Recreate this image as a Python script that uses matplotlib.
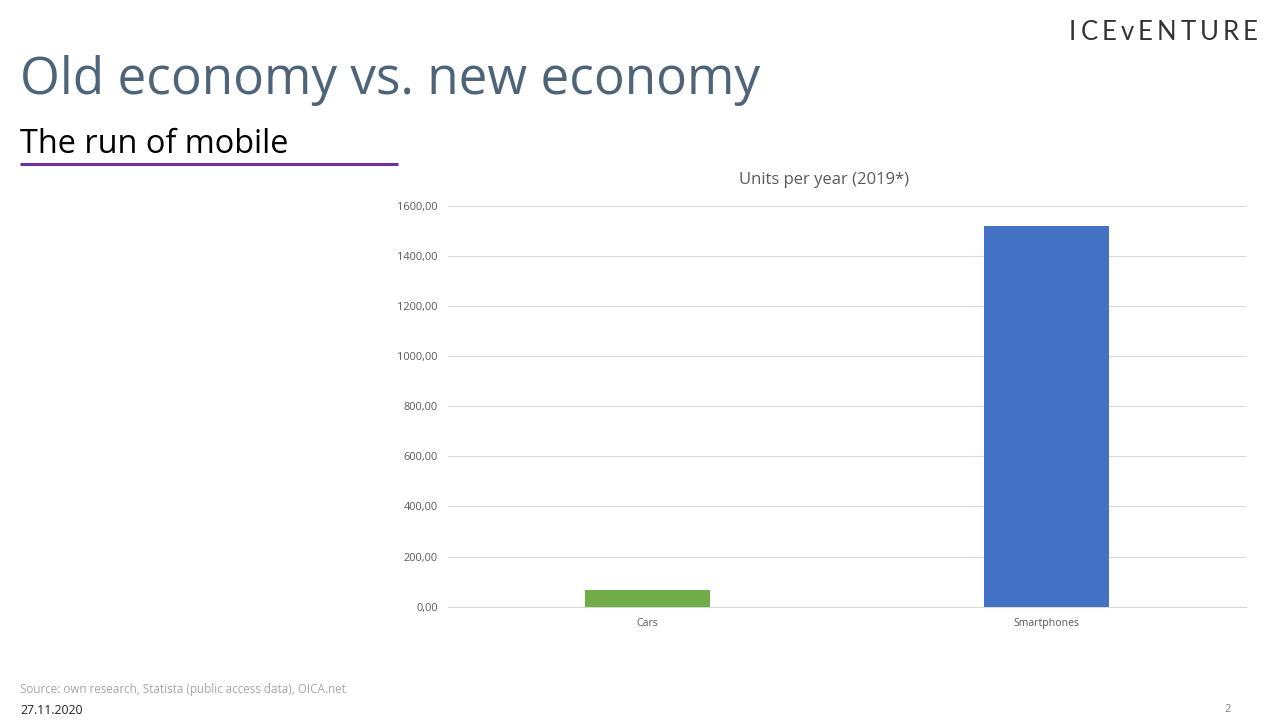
"""Old economy vs. new economy slide - units per year bar chart."""

import matplotlib
matplotlib.use("Agg")

import matplotlib.pyplot as plt
from matplotlib.lines import Line2D

categories = ["Cars", "Smartphones"]
units = [68, 1520]
bar_colours = ["#70AD47", "#4472C4"]
y_ticks = [0, 200, 400, 600, 800, 1000, 1200, 1400, 1600]
logo = "ICEvENTURE"

W, H = 1278, 720
FONT = "Open Sans"

fig = plt.figure(figsize=(W / 100, H / 100), dpi=100, facecolor="white")


def px_text(x, y, s, **kw):
    # slide text is placed in pixel coordinates, y from the top
    kw.setdefault("family", FONT)
    return fig.text(x / W, 1 - y / H, s, **kw)


# ---------------------------------------------------------------------------
# Slide furniture
# ---------------------------------------------------------------------------
px_text(20, 80, "Old economy vs. new economy", fontsize=36.9, color="#4E6479",
        va="center", ha="left")
px_text(20, 144.5, "The run of mobile", fontsize=23.4, color="black",
        va="center", ha="left")
fig.add_artist(Line2D([20 / W, 398 / W], [1 - 164 / H, 1 - 164 / H],
                      color="#7030A0", linewidth=2.2, solid_capstyle="butt"))

# logo has wide tracking, so set it letter by letter and fit it to its width
renderer = fig.canvas.get_renderer()
letters = [px_text(0, 40, c, family="Lato", fontsize=18.5, color="#333333",
                   va="baseline", ha="left") for c in logo]
widths = [t.get_window_extent(renderer).width for t in letters]
tracking = (1258 - 1069 - sum(widths)) / (len(logo) - 1)
x = 1069
for t, w in zip(letters, widths):
    t.set_x(x / W)
    x += w + tracking

px_text(20, 690, "Source: own research, Statista (public access data), OICA.net",
        fontsize=8.4, color="#A6A6A6", va="center", ha="left")
px_text(20, 711, "27.11.2020", fontsize=8.8, color="#222222", va="center", ha="left")
px_text(1231, 709, "2", fontsize=8, color="#7F7F7F", va="center", ha="right")

# ---------------------------------------------------------------------------
# Chart
# ---------------------------------------------------------------------------
ax = fig.add_axes([447.6 / W, 1 - 606.6 / H, (1246 - 447.6) / W, (606.6 - 206) / H])
ax.bar(categories, units, width=0.3125, color=bar_colours, zorder=3)
ax.set_xlim(-0.5, 1.5)
ax.set_ylim(0, 1600)
ax.set_yticks(y_ticks)
ax.set_yticklabels([f"{v:.2f}".replace(".", ",") for v in y_ticks],
                   family=FONT, fontsize=7.9, color="#595959")
ax.tick_params(axis="both", length=0)
ax.tick_params(axis="y", pad=7)
ax.tick_params(axis="x", pad=8)
for label in ax.get_xticklabels():
    label.set_family(FONT)
    label.set_fontsize(7.6)
    label.set_color("#595959")
ax.grid(axis="y", color="#D9D9D9", linewidth=0.8, zorder=0)
ax.set_axisbelow(True)
for side in ["top", "right", "left"]:
    ax.spines[side].set_visible(False)
ax.spines["bottom"].set_color("#D9D9D9")
ax.spines["bottom"].set_linewidth(0.8)

px_text(824, 180, "Units per year (2019*)", fontsize=12, color="#595959",
        va="center", ha="center")

fig.savefig("out.png", dpi=100, facecolor="white")
